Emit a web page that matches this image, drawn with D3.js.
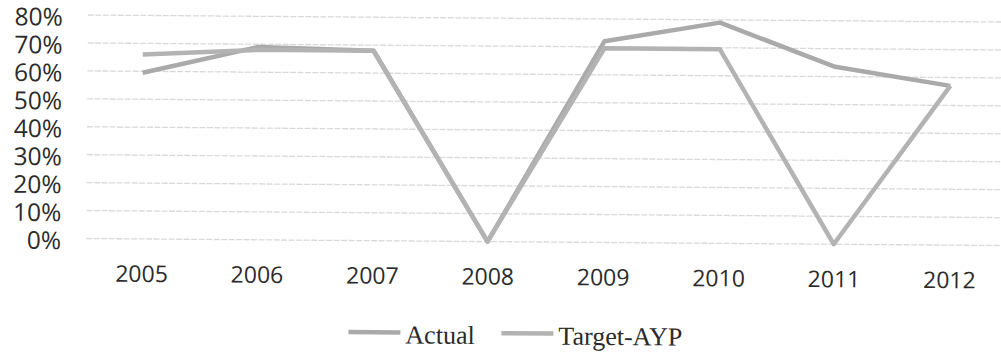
<!DOCTYPE html>
<html>
<head>
<meta charset="utf-8">
<script src="https://d3js.org/d3.v7.min.js"></script>
<style>
  html, body { margin: 0; padding: 0; background: #ffffff; }
  svg { display: block; }
</style>
</head>
<body>
<svg id="chart" width="1001" height="354"></svg>
<script>
// Years on the category axis
const years = ["2005", "2006", "2007", "2008", "2009", "2010", "2011", "2012"];

// Percent values per year
const actual    = [59.5, 69, 68, 0, 72, 79, 63.5, 57];
const targetAYP = [66, 68, 68, 0, 69.5, 69.5, 0, 57];

// Value axis ticks (percent)
const yTicks = [0, 10, 20, 30, 40, 50, 60, 70, 80];

const seriesNames = ["Actual", "Target-AYP"];

const svg = d3.select("#chart");
const W = 1001, H = 354;

const plot = { left: 84.5, right: 1007.7, top: 15, bottom: 238.5 };

const x = d3.scalePoint()
  .domain(years)
  .range([plot.left, plot.right])
  .padding(0.5);

const y = d3.scaleLinear()
  .domain([0, 80])
  .range([plot.bottom, plot.top]);

svg.append("rect").attr("width", W).attr("height", H).attr("fill", "#ffffff");

// The whole figure sits slightly askew on the page
const g = svg.append("g")
  .attr("transform", "rotate(0.44, 87, 126)");

// Value axis labels
const yAxis = d3.axisLeft(y).tickValues(yTicks).tickSize(0).tickPadding(0)
  .tickFormat(d => d + "%");

const gy = g.append("g")
  .attr("transform", `translate(62,0)`)
  .call(yAxis);
gy.select(".domain").remove();
gy.selectAll("text")
  .attr("font-family", "'Open Sans', sans-serif")
  .attr("font-size", 24.5)
  .attr("fill", "#2b2b2b")
  .attr("dy", "0.42em")
  .attr("text-anchor", "end");

// Horizontal gridlines
g.append("g")
  .selectAll("line")
  .data(yTicks)
  .join("line")
  .attr("x1", 87)
  .attr("x2", plot.right)
  .attr("y1", d => y(d))
  .attr("y2", d => y(d))
  .attr("stroke", "#d9d9d9")
  .attr("stroke-width", 1.3)
  .attr("stroke-dasharray", "6,1.5");

// Year labels
const xAxis = d3.axisBottom(x).tickSize(0).tickPadding(0);
const gx = g.append("g")
  .attr("transform", `translate(0,${plot.bottom})`)
  .call(xAxis);
gx.select(".domain").remove();
gx.selectAll("text")
  .attr("font-family", "'Open Sans', sans-serif")
  .attr("font-size", 23)
  .attr("fill", "#2b2b2b")
  .attr("dy", 0)
  .attr("y", 43);

// Series lines
const line = d3.line()
  .x((d, i) => x(years[i]))
  .y(d => y(d));

const series = [
  { name: seriesNames[0], values: actual, color: "#aaaaaa" },
  { name: seriesNames[1], values: targetAYP, color: "#b3b3b3" }
];

g.append("g")
  .selectAll("path")
  .data(series)
  .join("path")
  .attr("d", d => line(d.values))
  .attr("fill", "none")
  .attr("stroke", d => d.color)
  .attr("stroke-width", 4.5)
  .attr("stroke-linejoin", "round")
  .attr("stroke-linecap", "butt");

// Legend
const legendItems = [
  { name: seriesNames[0], color: series[0].color, x0: 350 },
  { name: seriesNames[1], color: series[1].color, x0: 503 }
];
const lg = g.append("g");
const items = lg.selectAll("g").data(legendItems).join("g")
  .attr("transform", d => `translate(${d.x0},330)`);
items.append("line")
  .attr("x1", 0).attr("x2", 52)
  .attr("y1", 0).attr("y2", 0)
  .attr("stroke", d => d.color)
  .attr("stroke-width", 4.5);
items.append("text")
  .attr("x", 57)
  .attr("y", 11)
  .attr("font-family", "'Liberation Serif', serif")
  .attr("font-size", 26)
  .attr("fill", "#2b2b2b")
  .text(d => d.name);
</script>
</body>
</html>
